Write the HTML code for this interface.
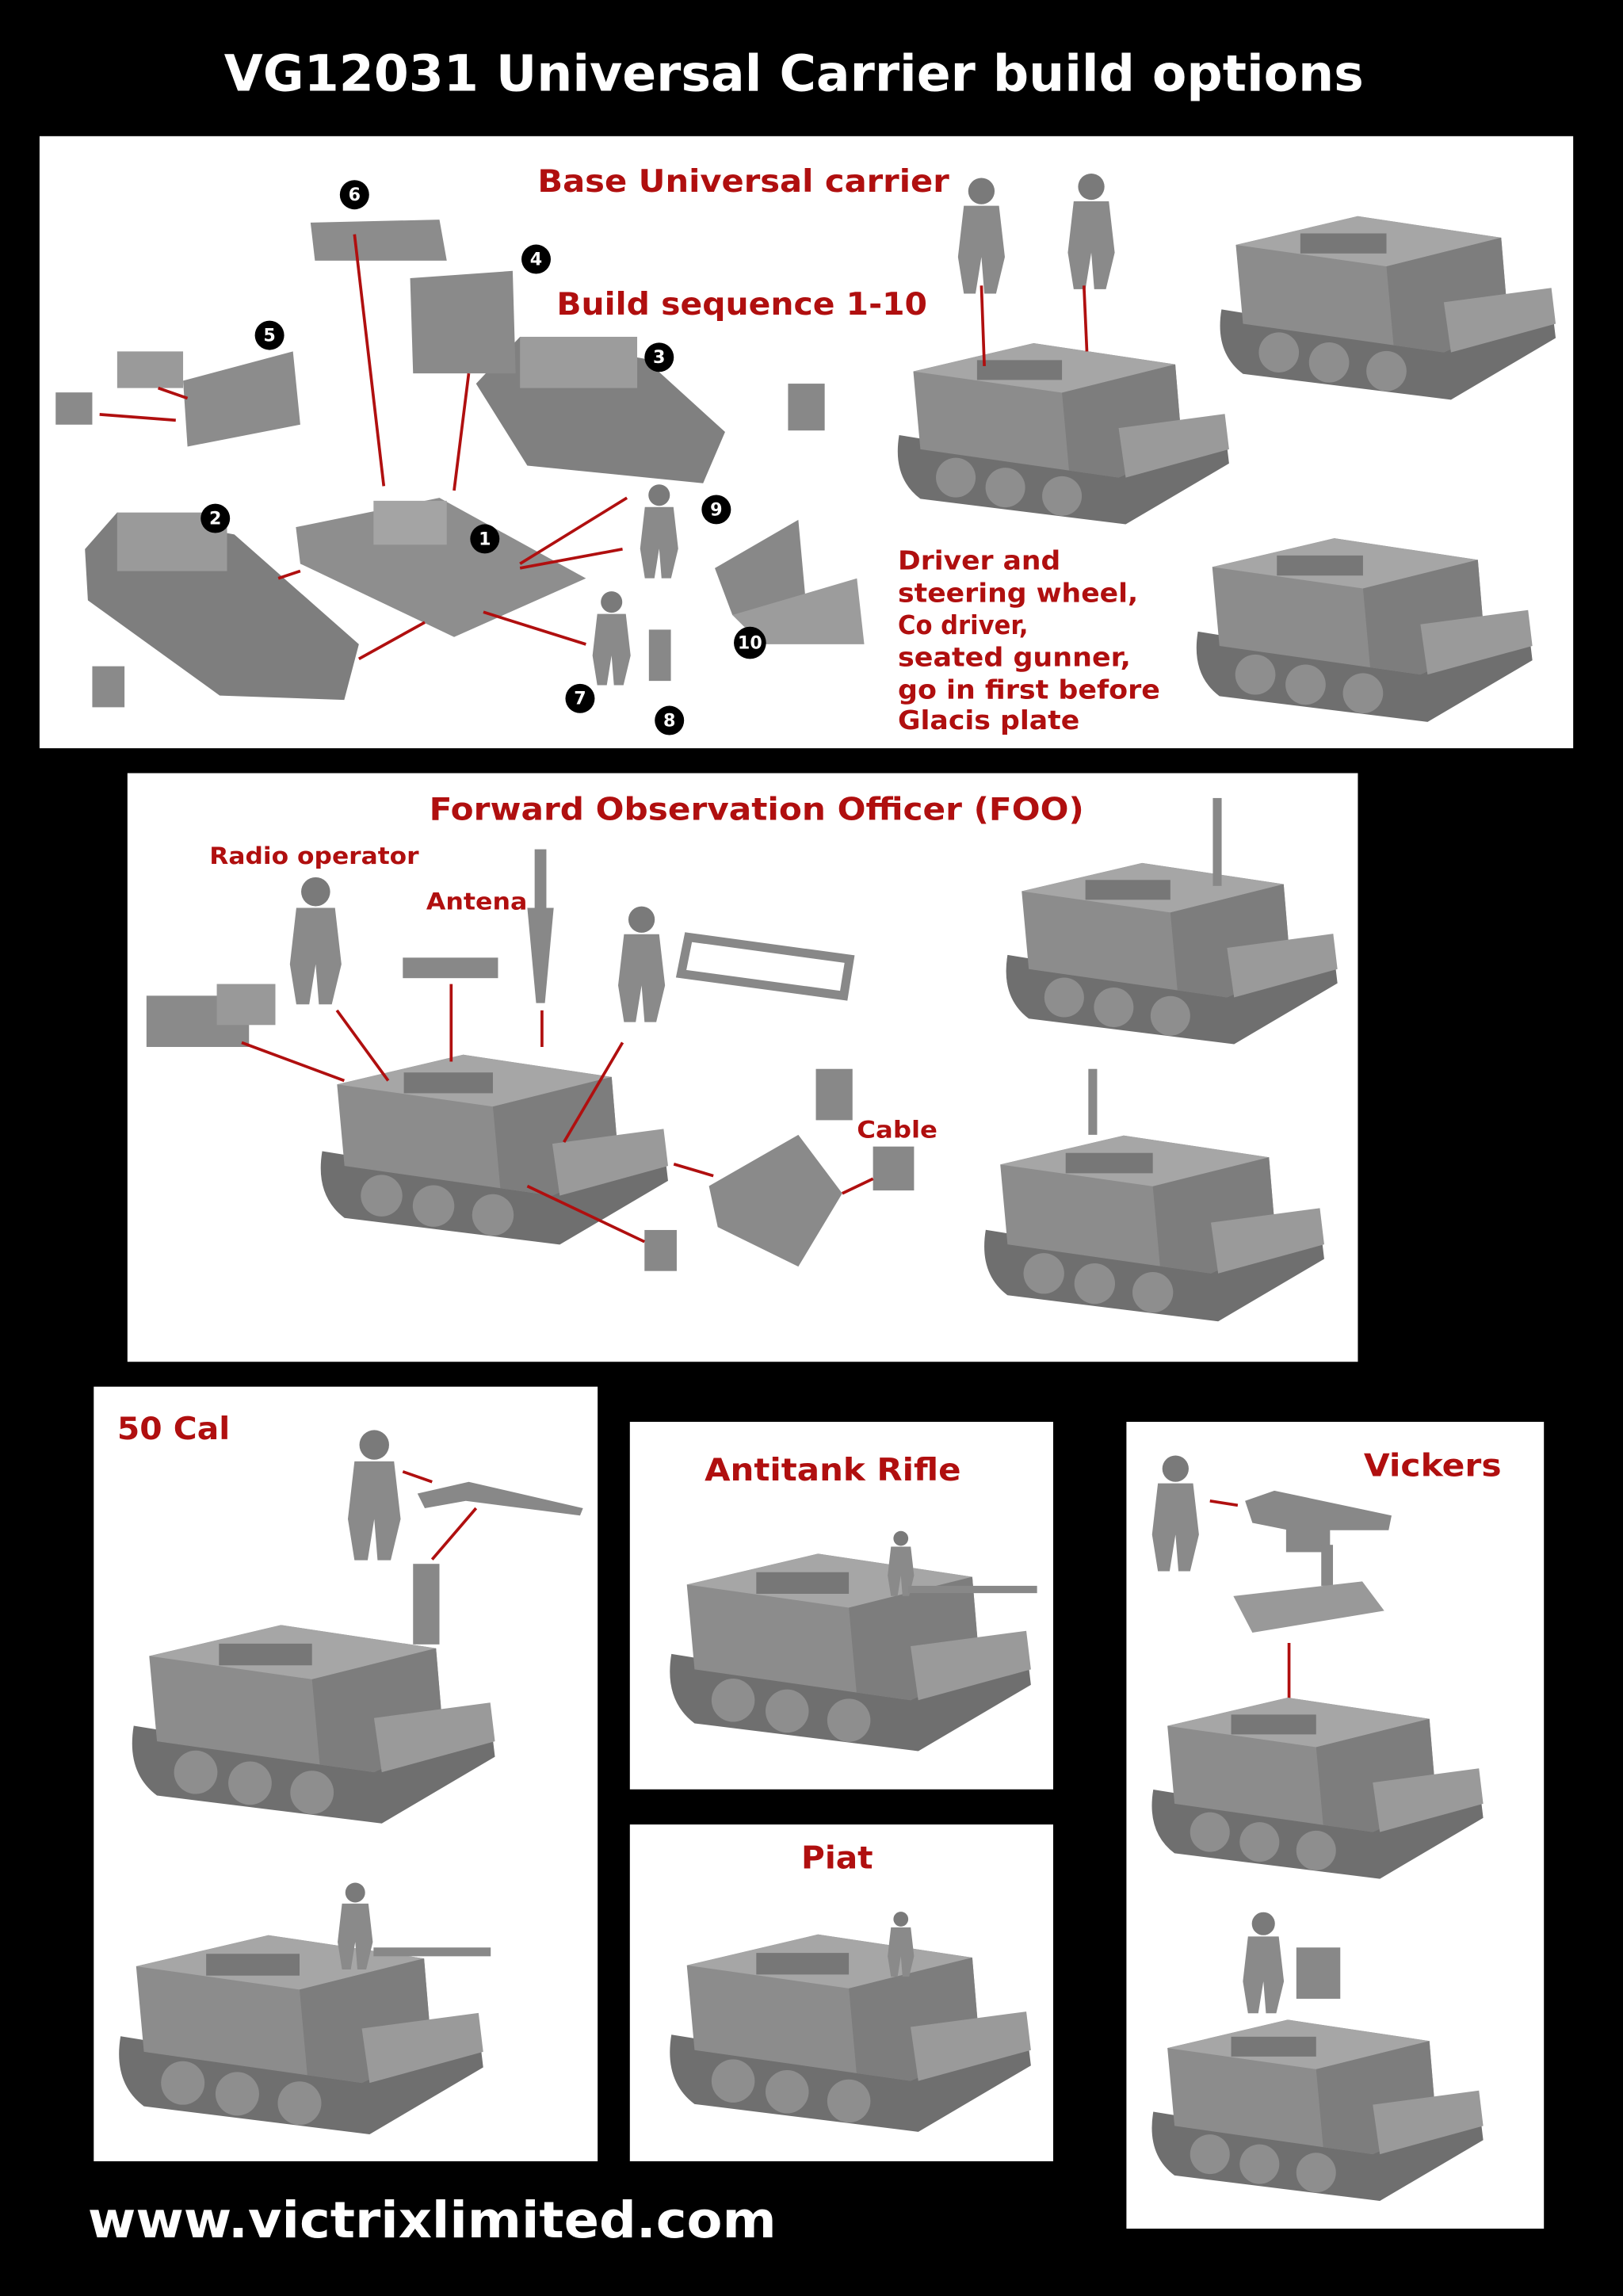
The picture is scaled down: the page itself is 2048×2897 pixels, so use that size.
<!DOCTYPE html>
<html><head><meta charset="utf-8"><style>
html,body{margin:0;padding:0;background:#000;}
body{width:2048px;height:2897px;overflow:hidden;}
svg{display:block}
text{font-family:"DejaVu Sans","Liberation Sans",sans-serif;font-weight:bold}
</style></head><body>
<svg width="2048" height="2897" viewBox="0 0 1108 1568" preserveAspectRatio="none" xmlns="http://www.w3.org/2000/svg">
<defs>
<symbol id="c" viewBox="0 0 240 150">
  <path d="M5 85 L160 110 L235 80 L238 105 L165 148 L20 130 Q0 115 5 85Z" fill="#6f6f6f"/>
  <circle cx="45" cy="115" r="14" fill="#8e8e8e"/><circle cx="80" cy="122" r="14" fill="#8e8e8e"/><circle cx="120" cy="128" r="14" fill="#8e8e8e"/>
  <path d="M15 40 L100 20 L200 35 L205 95 L160 115 L20 95Z" fill="#8c8c8c"/>
  <path d="M15 40 L100 20 L200 35 L120 55Z" fill="#a6a6a6"/>
  <path d="M120 55 L200 35 L205 95 L160 115 L125 110Z" fill="#7d7d7d"/>
  <path d="M160 80 L235 70 L238 95 L165 115Z" fill="#9a9a9a"/>
  <rect x="60" y="32" width="60" height="14" fill="#777"/>
</symbol>
<symbol id="f" viewBox="0 0 40 80">
  <circle cx="20" cy="10" r="9" fill="#7a7a7a"/>
  <path d="M8 20 L32 20 L36 55 L30 80 L22 80 L20 55 L16 80 L8 80 L4 55Z" fill="#8a8a8a"/>
</symbol>
</defs>
<rect width="1108" height="1568" fill="#000"/>
<text x="153" y="62" font-size="34" fill="#fff" textLength="778" lengthAdjust="spacingAndGlyphs">VG12031 Universal Carrier build options</text>

<rect x="27" y="93" width="1047" height="418" fill="#fff"/>
<rect x="87" y="528" width="840" height="402" fill="#fff"/>
<rect x="64" y="947" width="344" height="529" fill="#fff"/>
<rect x="430" y="971" width="289" height="251" fill="#fff"/>
<rect x="430" y="1246" width="289" height="230" fill="#fff"/>
<rect x="769" y="971" width="285" height="551" fill="#fff"/>

<g fill="#b00f0f" font-size="21">
<text x="367" y="131" textLength="281" lengthAdjust="spacingAndGlyphs">Base Universal carrier</text>
<text x="380" y="215" textLength="253" lengthAdjust="spacingAndGlyphs">Build sequence 1-10</text>
</g>
<g fill="#b00f0f" font-size="18">
<text x="613" y="389" textLength="111" lengthAdjust="spacingAndGlyphs">Driver and</text>
<text x="613" y="411" textLength="164" lengthAdjust="spacingAndGlyphs">steering wheel,</text>
<text x="613" y="433" textLength="89" lengthAdjust="spacingAndGlyphs">Co driver,</text>
<text x="613" y="455" textLength="159" lengthAdjust="spacingAndGlyphs">seated gunner,</text>
<text x="613" y="477" textLength="179" lengthAdjust="spacingAndGlyphs">go in first before</text>
<text x="613" y="498" textLength="124" lengthAdjust="spacingAndGlyphs">Glacis plate</text>
</g>
<use href="#c" x="607" y="215" width="236" height="145"/>
<use href="#c" x="829" y="128" width="235" height="147"/>
<use href="#c" x="811" y="348" width="239" height="147"/>
<use href="#f" x="650" y="118" width="40" height="85"/>
<use href="#f" x="725" y="115" width="40" height="85"/>
<path d="M202 360 L300 340 L400 395 L310 435 L205 385Z" fill="#8e8e8e"/>
<rect x="255" y="342" width="50" height="30" fill="#a4a4a4"/>
<path d="M58 375 L80 350 L160 365 L245 440 L235 478 L150 475 L60 410Z" fill="#7e7e7e"/>
<rect x="80" y="350" width="75" height="40" fill="#9a9a9a"/>
<path d="M325 262 L355 230 L440 245 L495 295 L480 330 L360 318Z" fill="#808080"/>
<rect x="355" y="230" width="80" height="35" fill="#9c9c9c"/>
<path d="M280 190 L350 185 L352 255 L282 255Z" fill="#8a8a8a"/>
<path d="M212 152 L300 150 L305 178 L215 178Z" fill="#8c8c8c"/>
<path d="M125 260 L200 240 L205 290 L128 305Z" fill="#8c8c8c"/>
<rect x="80" y="240" width="45" height="25" fill="#9a9a9a"/>
<rect x="38" y="268" width="25" height="22" fill="#8a8a8a"/>
<rect x="63" y="455" width="22" height="28" fill="#8a8a8a"/>
<rect x="538" y="262" width="25" height="32" fill="#888"/>
<use href="#f" x="425" y="330" width="50" height="65"/>
<use href="#f" x="400" y="403" width="35" height="65"/>
<rect x="443" y="430" width="15" height="35" fill="#888"/>
<path d="M488 388 L545 355 L550 410 L500 420Z" fill="#888"/>
<path d="M500 420 L585 395 L590 440 L520 440Z" fill="#9c9c9c"/>
<g stroke="#b00f0f" stroke-width="2">
<line x1="242" y1="160" x2="262" y2="332"/><line x1="320" y1="255" x2="310" y2="335"/>
<line x1="68" y1="283" x2="120" y2="287"/><line x1="108" y1="265" x2="128" y2="272"/>
<line x1="245" y1="450" x2="290" y2="425"/><line x1="190" y1="395" x2="205" y2="390"/>
<line x1="355" y1="385" x2="428" y2="340"/><line x1="355" y1="388" x2="425" y2="375"/>
<line x1="330" y1="418" x2="400" y2="440"/><line x1="670" y1="195" x2="672" y2="250"/><line x1="740" y1="195" x2="742" y2="240"/>
</g>
<g font-size="12" fill="#fff" text-anchor="middle">
<circle cx="242" cy="133" r="10" fill="#000"/><text x="242" y="137">6</text>
<circle cx="366" cy="177" r="10" fill="#000"/><text x="366" y="181">4</text>
<circle cx="184" cy="229" r="10" fill="#000"/><text x="184" y="233">5</text>
<circle cx="450" cy="244" r="10" fill="#000"/><text x="450" y="248">3</text>
<circle cx="147" cy="354" r="10" fill="#000"/><text x="147" y="358">2</text>
<circle cx="331" cy="368" r="10" fill="#000"/><text x="331" y="372">1</text>
<circle cx="489" cy="348" r="10" fill="#000"/><text x="489" y="352">9</text>
<circle cx="512" cy="439" r="11" fill="#000"/><text x="512" y="443">10</text>
<circle cx="396" cy="477" r="10" fill="#000"/><text x="396" y="481">7</text>
<circle cx="457" cy="492" r="10" fill="#000"/><text x="457" y="496">8</text>
</g>

<text x="293" y="560" font-size="21" fill="#b00f0f" textLength="447" lengthAdjust="spacingAndGlyphs">Forward Observation Officer (FOO)</text>
<text x="143" y="590" font-size="16" fill="#b00f0f" textLength="143" lengthAdjust="spacingAndGlyphs">Radio operator</text>
<text x="291" y="621" font-size="16" fill="#b00f0f" textLength="69" lengthAdjust="spacingAndGlyphs">Antena</text>
<text x="585" y="777" font-size="16" fill="#b00f0f" textLength="55" lengthAdjust="spacingAndGlyphs">Cable</text>
<use href="#c" x="213" y="700" width="247" height="152"/>
<use href="#c" x="680" y="570" width="238" height="145"/>
<use href="#c" x="668" y="755" width="238" height="150"/>
<use href="#f" x="188" y="598" width="55" height="88"/>
<use href="#f" x="418" y="602" width="40" height="112"/>
<rect x="275" y="654" width="65" height="14" fill="#888"/>
<rect x="365" y="580" width="8" height="40" fill="#888"/><path d="M360 620 L378 620 L372 685 L366 685Z" fill="#888"/>
<path d="M470 640 L580 655 L576 680 L465 665Z" fill="none" stroke="#888" stroke-width="6"/>
<rect x="100" y="680" width="70" height="35" fill="#8a8a8a"/><rect x="148" y="672" width="40" height="28" fill="#999"/>
<path d="M484 810 L545 775 L575 815 L545 865 L490 838Z" fill="#8a8a8a"/>
<rect x="557" y="730" width="25" height="35" fill="#888"/>
<rect x="596" y="783" width="28" height="30" fill="#888"/>
<rect x="440" y="840" width="22" height="28" fill="#888"/>
<rect x="828" y="545" width="6" height="60" fill="#888"/><rect x="743" y="730" width="6" height="45" fill="#888"/>
<g stroke="#b00f0f" stroke-width="2">
<line x1="165" y1="712" x2="235" y2="738"/><line x1="230" y1="690" x2="265" y2="738"/>
<line x1="308" y1="672" x2="308" y2="725"/><line x1="370" y1="690" x2="370" y2="715"/>
<line x1="425" y1="712" x2="385" y2="780"/><line x1="460" y1="795" x2="487" y2="803"/>
<line x1="575" y1="815" x2="596" y2="805"/><line x1="360" y1="810" x2="440" y2="848"/>
</g>

<text x="80" y="983" font-size="21" fill="#b00f0f" textLength="77" lengthAdjust="spacingAndGlyphs">50 Cal</text>
<use href="#f" x="233" y="963" width="45" height="115"/>
<path d="M285 1020 L320 1012 L398 1030 L396 1035 L318 1025 L290 1030Z" fill="#888"/>
<rect x="282" y="1068" width="18" height="55" fill="#888"/>
<g stroke="#b00f0f" stroke-width="2"><line x1="275" y1="1005" x2="295" y2="1012"/><line x1="295" y1="1065" x2="325" y2="1030"/><line x1="290" y1="1125" x2="290" y2="1140"/></g>
<use href="#c" x="86" y="1088" width="254" height="160"/>
<use href="#c" x="77" y="1300" width="255" height="160"/>
<use href="#f" x="225" y="1285" width="35" height="60"/>
<rect x="255" y="1330" width="80" height="6" fill="#888"/>

<text x="481" y="1011" font-size="21" fill="#b00f0f" textLength="175" lengthAdjust="spacingAndGlyphs">Antitank Rifle</text>
<use href="#c" x="447" y="1040" width="265" height="158"/>
<use href="#f" x="600" y="1045" width="30" height="45"/>
<rect x="620" y="1083" width="88" height="5" fill="#888"/>

<text x="547" y="1276" font-size="21" fill="#b00f0f" textLength="49" lengthAdjust="spacingAndGlyphs">Piat</text>
<use href="#c" x="447" y="1300" width="265" height="158"/>
<use href="#f" x="600" y="1305" width="30" height="45"/>

<text x="931" y="1008" font-size="21" fill="#b00f0f" textLength="94" lengthAdjust="spacingAndGlyphs">Vickers</text>
<use href="#f" x="780" y="993" width="45" height="80"/>
<path d="M850 1025 L870 1018 L950 1035 L948 1045 L880 1045 L855 1040Z" fill="#888"/>
<rect x="878" y="1040" width="30" height="20" fill="#888"/><rect x="902" y="1055" width="8" height="28" fill="#888"/>
<path d="M842 1090 L930 1080 L945 1100 L855 1115Z" fill="#999"/>
<line x1="880" y1="1122" x2="880" y2="1168" stroke="#b00f0f" stroke-width="2"/>
<line x1="826" y1="1025" x2="845" y2="1028" stroke="#b00f0f" stroke-width="2"/>
<use href="#c" x="777" y="1140" width="243" height="145"/>
<use href="#c" x="777" y="1360" width="243" height="145"/>
<use href="#f" x="840" y="1305" width="45" height="70"/>
<rect x="885" y="1330" width="30" height="35" fill="#888"/>

<text x="60" y="1528" font-size="34" fill="#fff" textLength="470" lengthAdjust="spacingAndGlyphs">www.victrixlimited.com</text>
</svg>
</body></html>
